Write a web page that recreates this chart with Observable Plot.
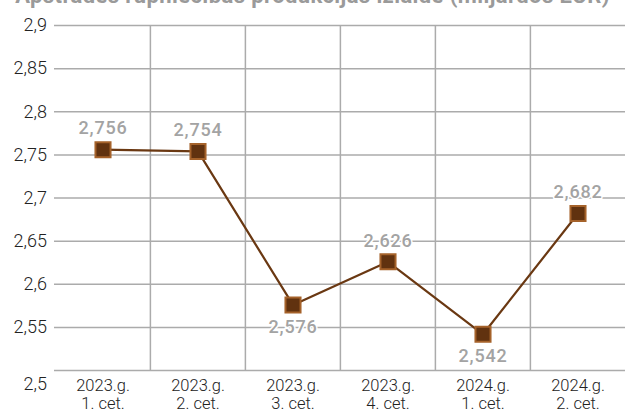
<!DOCTYPE html>
<html>
<head>
<meta charset="utf-8">
<script src="https://cdn.jsdelivr.net/npm/d3@7"></script>
<script src="https://cdn.jsdelivr.net/npm/@observablehq/plot@0.6"></script>
<style>
  html, body { margin: 0; padding: 0; background: #fff; width: 625px; height: 415px; overflow: hidden; }
  #wrap { position: relative; width: 625px; height: 415px; }
  #title { position: absolute; top: -17px; left: 0; width: 625px; text-align: center;
    font-family: Roboto, sans-serif; font-weight: 700; font-size: 22px; letter-spacing: 0.4px; color: #9a9a9a; white-space: nowrap; }
  #chart { position: absolute; top: 0; left: 0; }
  .vlabel text { letter-spacing: 0.8px; }
</style>
</head>
<body>
<div id="wrap">
  <div id="title">Apstrādes rūpniecības produkcijas izlaide (miljardos EUR)</div>
  <div id="chart"></div>
</div>
<script>
const periods = ["2023.g.\n1. cet.", "2023.g.\n2. cet.", "2023.g.\n3. cet.", "2023.g.\n4. cet.", "2024.g.\n1. cet.", "2024.g.\n2. cet."];
const values = [2.756, 2.754, 2.576, 2.626, 2.542, 2.682];
const labelAbove = [true, true, false, true, false, true];
const yTicks = [2.5, 2.55, 2.6, 2.65, 2.7, 2.75, 2.8, 2.85, 2.9];

const data = periods.map((p, i) => ({period: p, value: values[i], above: labelAbove[i]}));
const fmtNum = v => d3.format(".3f")(v).replace(".", ",");
const fmtTick = v => String(+v.toFixed(2)).replace(".", ",");

const plot = Plot.plot({
  width: 625,
  height: 415,
  marginTop: 25,
  marginBottom: 45,
  marginLeft: 54,
  marginRight: 0,
  style: {fontFamily: "Roboto, sans-serif", background: "transparent"},
  x: {type: "band", domain: periods, padding: 0, align: 0.5, axis: null},
  y: {domain: [2.5, 2.9], axis: null},
  marks: [
    Plot.ruleY(yTicks, {stroke: "#ababab", strokeWidth: 1.5}),
    Plot.ruleX(periods.slice(1), {x: d => d, stroke: "#ababab", strokeWidth: 1.5, dx: -47.6, y1: 2.5, y2: 2.9}),
    Plot.text(yTicks.filter(d => d > 2.5), {x: () => periods[0], y: d => d, text: d => fmtTick(d), textAnchor: "end", dx: -56, fontSize: 18, fontWeight: 300, fill: "#222"}),
    Plot.text([2.5], {x: () => periods[0], y: d => d, text: d => fmtTick(d), textAnchor: "end", dx: -56, dy: 14, fontSize: 18, fontWeight: 300, fill: "#222"}),
    Plot.text(periods, {x: d => d, y: () => 2.5, text: d => d, dy: 24, fontSize: 16.5, fontWeight: 300, fill: "#222", lineHeight: 1.05}),
    Plot.line(data, {x: "period", y: "value", stroke: "#6a3812", strokeWidth: 2.2}),
    Plot.dot(data, {x: "period", y: "value", symbol: "square", r: 8.5, fill: "#61320f", stroke: "#a5622a", strokeWidth: 2}),
    Plot.text(data.filter(d => d.above), {x: "period", y: "value", text: d => fmtNum(d.value), dy: -21, fontSize: 18, fontWeight: 500, fill: "#a3a3a3", stroke: "white", strokeWidth: 3, className: "vlabel"}),
    Plot.text(data.filter(d => !d.above), {x: "period", y: "value", text: d => fmtNum(d.value), dy: 22, fontSize: 18, fontWeight: 500, fill: "#a3a3a3", stroke: "white", strokeWidth: 3, className: "vlabel"})
  ]
});
document.getElementById("chart").appendChild(plot);
</script>
</body>
</html>
